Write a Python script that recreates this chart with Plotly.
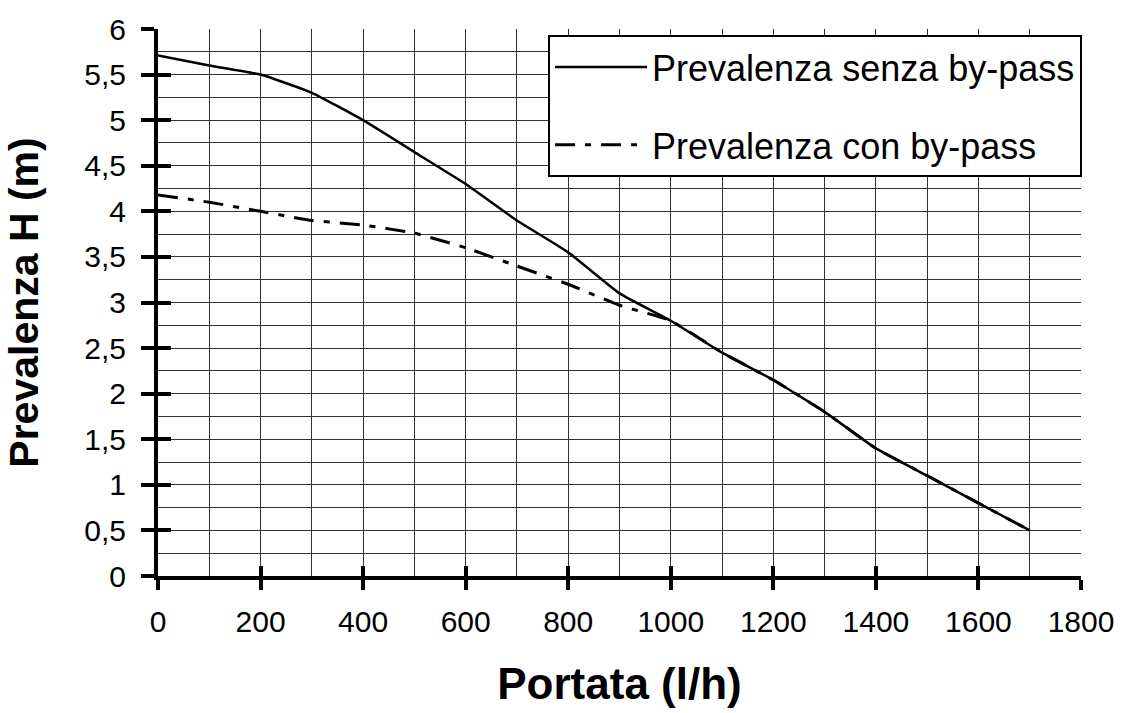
import plotly.graph_objects as go

portata = [0, 100, 200, 300, 400, 500, 600, 700, 800, 900, 1000, 1100, 1200, 1300, 1400, 1500, 1600, 1700]
h_senza = [5.71, 5.60, 5.50, 5.30, 5.00, 4.65, 4.30, 3.90, 3.55, 3.10, 2.80, 2.45, 2.15, 1.80, 1.40, 1.10, 0.80, 0.50]
h_con = [4.18, 4.10, 4.00, 3.90, 3.85, 3.76, 3.60, 3.40, 3.20, 2.97, 2.80, 2.45, 2.15, 1.80, 1.40, 1.10, 0.80, 0.50]

x_ticks = [0, 200, 400, 600, 800, 1000, 1200, 1400, 1600, 1800]
y_ticks = [0, 0.5, 1, 1.5, 2, 2.5, 3, 3.5, 4, 4.5, 5, 5.5, 6]

name_senza = "Prevalenza senza by-pass"
name_con = "Prevalenza con by-pass"

FONT = "Liberation Sans, Arial, sans-serif"

fig = go.Figure()
fig.add_trace(go.Scatter(x=portata, y=h_senza, mode="lines", name=name_senza,
                         legendgroup="a",
                         line=dict(color="black", width=2.5, shape="spline", smoothing=0.4)))
fig.add_trace(go.Scatter(x=portata, y=h_con, mode="lines", name=name_con,
                         legendgroup="b",
                         line=dict(color="black", width=3, dash="20px,10px,6px,10px",
                                   shape="spline", smoothing=0.4)))
# empty trace to activate overlay axes for inside tick marks
fig.add_trace(go.Scatter(x=[], y=[], xaxis="x2", yaxis="y2", showlegend=False))

grid_color = "#333333"
fig.update_layout(
    width=1126, height=713,
    margin=dict(l=158, r=38, t=24, b=135),
    paper_bgcolor="white", plot_bgcolor="white",
    separators=",.",
    font=dict(family=FONT, color="black"),
    showlegend=True,
    legend=dict(x=0.4226, y=0.989, xanchor="left", yanchor="top",
                bordercolor="black", borderwidth=2, bgcolor="white",
                font=dict(size=36, family=FONT, color="black"),
                traceorder="grouped", tracegroupgap=28, itemwidth=92),
    xaxis=dict(range=[0, 1800], tickvals=x_ticks, ticks="outside", ticklen=10,
               tickwidth=4, tickcolor="black", showline=True, linewidth=4,
               linecolor="black", zeroline=False, showgrid=True, gridcolor=grid_color,
               gridwidth=1, minor=dict(dtick=100, showgrid=True, gridcolor=grid_color, gridwidth=1),
               tickfont=dict(size=30), ticklabelstandoff=6,
               title=dict(text="<b>Portata (l/h)</b>", font=dict(size=44), standoff=32)),
    yaxis=dict(range=[0, 6], tickvals=y_ticks, ticks="outside", ticklen=13,
               tickwidth=4, tickcolor="black", showline=True, linewidth=4,
               linecolor="black", zeroline=False, showgrid=True, gridcolor=grid_color,
               gridwidth=1, minor=dict(dtick=0.25, showgrid=True, gridcolor=grid_color, gridwidth=1),
               tickfont=dict(size=30), ticklabelstandoff=9,
               title=dict(text="<b>Prevalenza H (m)</b>", font=dict(size=41), standoff=34)),
    xaxis2=dict(range=[0, 1800], overlaying="x", anchor="y", side="bottom",
                tickvals=x_ticks, ticks="inside", ticklen=10, tickwidth=4, tickcolor="black",
                showticklabels=False, showgrid=False, zeroline=False, showline=False),
    yaxis2=dict(range=[0, 6], overlaying="y", anchor="x", side="left",
                tickvals=y_ticks, ticks="inside", ticklen=13, tickwidth=4, tickcolor="black",
                showticklabels=False, showgrid=False, zeroline=False, showline=False),
)

fig.write_html("out.html", config={"displayModeBar": False},
               post_script="document.body.style.margin='0';")
